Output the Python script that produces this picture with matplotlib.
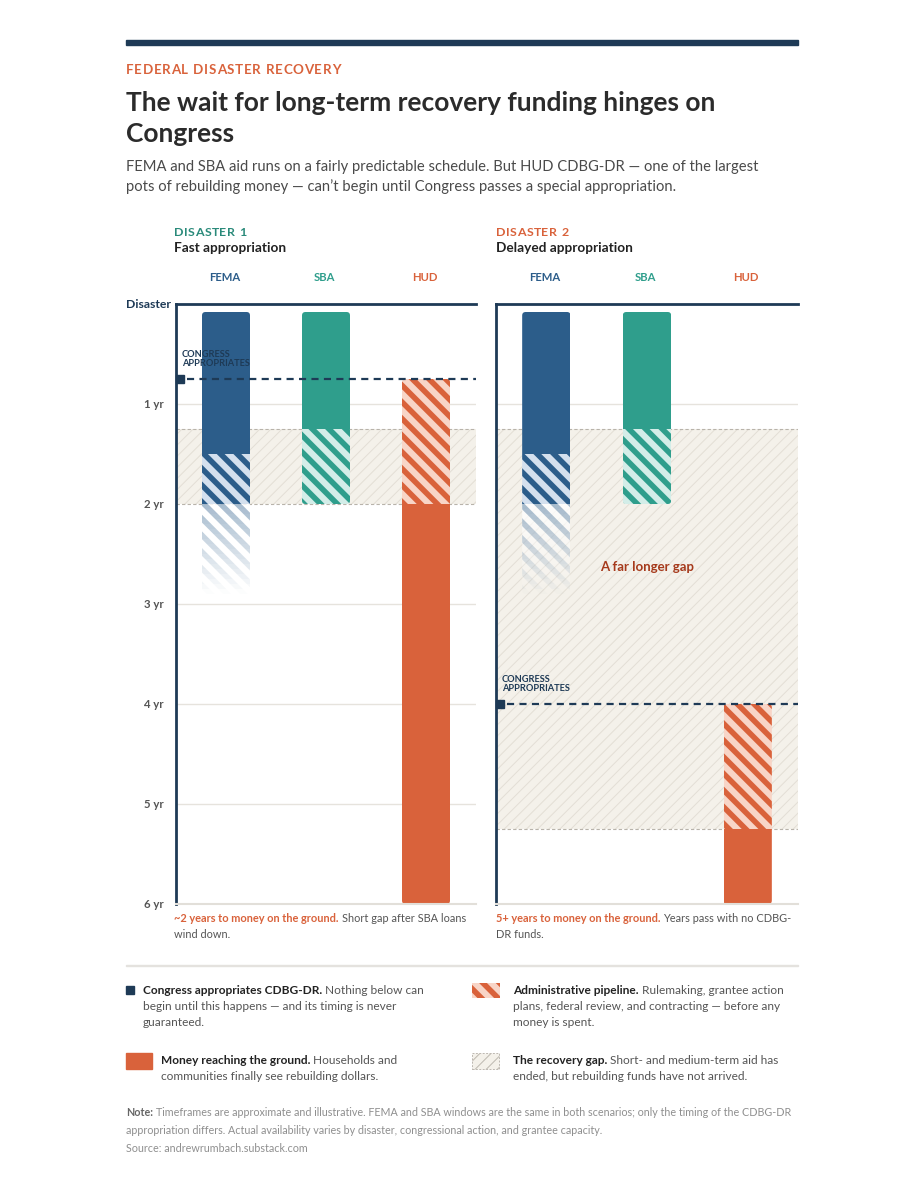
import matplotlib
matplotlib.use('Agg')
import matplotlib.pyplot as plt
from matplotlib.patches import Rectangle, FancyBboxPatch
import numpy as np

W, H = 924, 1190
plt.rcParams['font.family'] = ['Lato', 'DejaVu Sans']
plt.rcParams['hatch.linewidth'] = 4.0

# ---- data (years after the disaster) ----
agencies = ['FEMA', 'SBA', 'HUD']
bar_top = 0.08
fema_solid_end = 1.5
fema_pipeline_end = 2.0
fema_fade_end = 2.9
sba_solid_end = 1.25
sba_pipeline_end = 2.0
congress_year = [0.75, 4.0]
gap_start = [1.25, 1.25]
gap_end = [2.0, 5.25]
hud_money_start = [2.0, 5.25]
horizon = 6.0
ytick_years = [1, 2, 3, 4, 5, 6]
ytick_labels = ['1 yr', '2 yr', '3 yr', '4 yr', '5 yr', '6 yr']

panel_kicker = ['DISASTER 1', 'DISASTER 2']
panel_sub = ['Fast appropriation', 'Delayed appropriation']
panel_head = ['~2 years to money on the ground.', '5+ years to money on the ground.']
panel_body = [['Short gap after SBA loans', 'wind down.'],
              ['Years pass with no CDBG-', 'DR funds.']]

# ---- colours ----
NAVY = '#1e3a56'
FEMA_C = '#2c5d8a'
SBA_C = '#2f9e8c'
HUD_C = '#d9623b'
light = {'FEMA': '#d4e0ee', 'SBA': '#d3ede8', 'HUD': '#f8d5c7'}
dark = {'FEMA': FEMA_C, 'SBA': SBA_C, 'HUD': HUD_C}
GAP_FACE = '#f4f1ea'
GAP_HATCH = '#e3ded5'
GRID = '#e6e3dd'
TXT = '#222222'
GREY = '#555555'


def fx(x):
    return x / W


def fy(y):
    return 1 - y / H


fig = plt.figure(figsize=(W / 100, H / 100), dpi=100)
renderer = fig.canvas.get_renderer()


def spaced(x, y, s, size, color, track):
    # text with extra letter spacing, drawn letter by letter
    cur = x
    for ch in s:
        t = fig.text(fx(cur), fy(y), ch, fontsize=size, fontweight='bold',
                     color=color, va='center', ha='left')
        if ch == ' ':
            w = size * 0.26 * 100 / 72
        else:
            w = t.get_window_extent(renderer).width
        cur += w + track


def rich(x, y, head, lines, size, head_color, body_color, step):
    t = fig.text(fx(x), fy(y), head, fontsize=size, fontweight='bold',
                 color=head_color, va='center', ha='left')
    bb = t.get_window_extent(renderer)
    fig.text(bb.x1 / W + fx(3), fy(y), lines[0], fontsize=size,
             color=body_color, va='center', ha='left')
    for i, ln in enumerate(lines[1:]):
        fig.text(fx(x), fy(y + step * (i + 1)), ln, fontsize=size,
                 color=body_color, va='center', ha='left')


def rounded(ax, x, y0, y1, w):
    return FancyBboxPatch((x - w / 2, y0), w, y1 - y0,
                          boxstyle='round,pad=0,rounding_size=0.035',
                          transform=ax.transData)


def clip(containers, cp):
    for c in containers:
        for patch in c:
            patch.set_clip_path(cp)


# ---- header ----
fig.add_artist(Rectangle((fx(126), fy(45)), fx(672), 5 / H, color=NAVY,
                         transform=fig.transFigure))
spaced(126, 70, 'FEDERAL DISASTER RECOVERY', 9.6, HUD_C, 0.7)
fig.text(fx(126), fy(103), 'The wait for long-term recovery funding hinges on',
         fontsize=19, fontweight='bold', color='#2b2b2b', va='center')
fig.text(fx(126), fy(134), 'Congress', fontsize=19, fontweight='bold',
         color='#2b2b2b', va='center')
fig.text(fx(126), fy(167), 'FEMA and SBA aid runs on a fairly predictable schedule. '
         'But HUD CDBG-DR \u2014 one of the largest', fontsize=10.6,
         color='#4a4a4a', va='center')
fig.text(fx(126), fy(187), 'pots of rebuilding money \u2014 can\u2019t begin until '
         'Congress passes a special appropriation.', fontsize=10.6,
         color='#4a4a4a', va='center')

# ---- panels ----
panel_left = [176, 496]
panel_width = [300, 302]
kicker_colors = ['#2a8a7a', HUD_C]
xpos = np.array([0.5, 1.5, 2.5])
bw = 0.48
fema_rgb = matplotlib.colors.to_rgb(FEMA_C)

for p in range(2):
    L = panel_left[p]
    ax = fig.add_axes([fx(L), fy(904), fx(panel_width[p]), 600 / H])
    ax.set_xlim(0, 3)
    ax.set_ylim(horizon, 0)

    # recovery gap
    gap = ax.axhspan(gap_start[p], gap_end[p], facecolor=GAP_FACE,
                     edgecolor=GAP_HATCH, hatch='///', lw=0, zorder=0.6)
    if hasattr(gap, 'set_hatch_linewidth'):
        gap.set_hatch_linewidth(0.7)
    for g in (gap_start[p], gap_end[p]):
        ax.axhline(g, color='#b8b3aa', lw=0.8, ls=(0, (3, 2)), zorder=0.8)
    for yy in ytick_years[:-1]:
        if yy not in (gap_start[p], gap_end[p]):
            ax.axhline(yy, color=GRID, lw=1, zorder=0.5)

    # FEMA
    fema_bars = [
        ax.bar(xpos[0], fema_solid_end - bar_top, bottom=bar_top, width=bw,
               color=FEMA_C, lw=0, zorder=2),
        ax.bar(xpos[0], fema_pipeline_end - fema_solid_end, bottom=fema_solid_end,
               width=bw, facecolor=light['FEMA'], edgecolor=FEMA_C, hatch='\\\\',
               lw=0, zorder=2)]
    nfade = 18
    edges = np.linspace(fema_pipeline_end, fema_fade_end, nfade + 1)
    for i in range(nfade):
        f = 1 - (i + 0.5) / nfade
        fema_bars.append(
            ax.bar(xpos[0], edges[i + 1] - edges[i], bottom=edges[i], width=bw,
                   facecolor=(1, 1, 1, 0.85 * f), edgecolor=(*fema_rgb, 0.42 * f),
                   hatch='\\\\', lw=0, zorder=2))
    clip(fema_bars, rounded(ax, xpos[0], bar_top, fema_fade_end, bw))

    # SBA
    sba_bars = [
        ax.bar(xpos[1], sba_solid_end - bar_top, bottom=bar_top, width=bw,
               color=SBA_C, lw=0, zorder=2),
        ax.bar(xpos[1], sba_pipeline_end - sba_solid_end, bottom=sba_solid_end,
               width=bw, facecolor=light['SBA'], edgecolor=SBA_C, hatch='\\\\',
               lw=0, zorder=2)]
    clip(sba_bars, rounded(ax, xpos[1], bar_top, sba_pipeline_end, bw))

    # HUD
    hud_bars = [
        ax.bar(xpos[2], hud_money_start[p] - congress_year[p],
               bottom=congress_year[p], width=bw, facecolor=light['HUD'],
               edgecolor=HUD_C, hatch='\\\\', lw=0, zorder=2),
        ax.bar(xpos[2], horizon - hud_money_start[p], bottom=hud_money_start[p],
               width=bw, color=HUD_C, lw=0, zorder=2)]
    clip(hud_bars, rounded(ax, xpos[2], congress_year[p], horizon, bw))

    # congress appropriates
    ax.axhline(congress_year[p], xmin=0.035, color=NAVY, lw=1.6,
               ls=(0, (3.2, 2.4)), zorder=4)
    ax.plot(0.04, congress_year[p], marker='s', ms=5.5, color=NAVY,
            clip_on=False, zorder=5)
    ax.text(0.06, congress_year[p] - 0.11, 'CONGRESS\nAPPROPRIATES',
            fontsize=6.7, fontweight='bold', color=NAVY, va='bottom',
            ha='left', linespacing=1.0, zorder=6)

    if p == 1:
        ax.text(1.5, 2.63, 'A far longer gap', fontsize=9.5, fontweight='bold',
                color='#a63a1c', ha='center', va='center', zorder=6)

    # axes styling
    ax.spines['right'].set_visible(False)
    ax.spines['left'].set_color(NAVY)
    ax.spines['left'].set_linewidth(2)
    ax.spines['top'].set_color(NAVY)
    ax.spines['top'].set_linewidth(2)
    ax.spines['bottom'].set_color('#e2dfd9')
    ax.spines['bottom'].set_linewidth(1.5)
    ax.set_xticks([])
    ax.set_yticks(ytick_years)
    if p == 0:
        ax.set_yticklabels(ytick_labels, fontsize=8.2, fontweight='bold',
                           color=GREY)
        ax.tick_params(axis='y', length=0, pad=9)
    else:
        ax.set_yticklabels([])
        ax.tick_params(axis='y', length=0)

    # labels above
    kx = 174 if p == 0 else 496
    spaced(kx, 232, panel_kicker[p], 8.9, kicker_colors[p], 0.5)
    fig.text(fx(kx), fy(248), panel_sub[p], fontsize=9.8, fontweight='bold',
             color=TXT, va='center')
    for i, name in enumerate(agencies):
        cx = L + xpos[i] * panel_width[p] / 3 - 1.5
        fig.text(fx(cx), fy(277), name, fontsize=8.1, fontweight='bold',
                 color=dark[name], ha='center', va='center')

    rich(kx, 918, panel_head[p], panel_body[p], 7.9, HUD_C, GREY, 16)

fig.text(fx(171), fy(304), 'Disaster', fontsize=8.8, fontweight='bold',
         color=NAVY, ha='right', va='center')

# ---- legend ----
fig.add_artist(Rectangle((fx(126), fy(965.5)), fx(672), 1 / H, color='#e4e2de',
                         transform=fig.transFigure))

fig.add_artist(Rectangle((fx(126), fy(994)), fx(8), 8 / H, color=NAVY,
                         transform=fig.transFigure))
rich(143, 990, 'Congress appropriates CDBG-DR.',
     ['Nothing below can', 'begin until this happens \u2014 and its timing is never',
      'guaranteed.'], 8.6, TXT, GREY, 16.5)

sw = Rectangle((fx(472), fy(998)), fx(28), 15 / H, facecolor=light['HUD'],
               edgecolor=HUD_C, hatch='\\\\', lw=0, transform=fig.transFigure)
fig.add_artist(sw)
rich(513, 990, 'Administrative pipeline.',
     ['Rulemaking, grantee action', 'plans, federal review, and contracting \u2014 before any',
      'money is spent.'], 8.6, TXT, GREY, 16.5)

fig.add_artist(Rectangle((fx(126), fy(1069)), fx(26), 16 / H, color=HUD_C,
                         transform=fig.transFigure))
rich(161, 1060, 'Money reaching the ground.',
     ['Households and', 'communities finally see rebuilding dollars.'],
     8.6, TXT, GREY, 16.5)

gsw = Rectangle((fx(472), fy(1069)), fx(27), 16 / H, facecolor=GAP_FACE,
                edgecolor='#bdb8b0', hatch='///', lw=0.7, ls=(0, (2, 1.5)),
                transform=fig.transFigure)
if hasattr(gsw, 'set_hatch_linewidth'):
    gsw.set_hatch_linewidth(0.7)
fig.add_artist(gsw)
rich(513, 1060, 'The recovery gap.',
     ['Short- and medium-term aid has', 'ended, but rebuilding funds have not arrived.'],
     8.6, TXT, GREY, 16.5)

# ---- note ----
rich(126, 1112, 'Note:',
     ['Timeframes are approximate and illustrative. FEMA and SBA windows are the same '
      'in both scenarios; only the timing of the CDBG-DR',
      'appropriation differs. Actual availability varies by disaster, congressional '
      'action, and grantee capacity.'], 7.75, '#666666', '#8f8f8f', 18)
fig.text(fx(126), fy(1149), 'Source: andrewrumbach.substack.com', fontsize=7.75,
         color='#8f8f8f', va='center')

fig.savefig('out.png', dpi=100, facecolor='white')
